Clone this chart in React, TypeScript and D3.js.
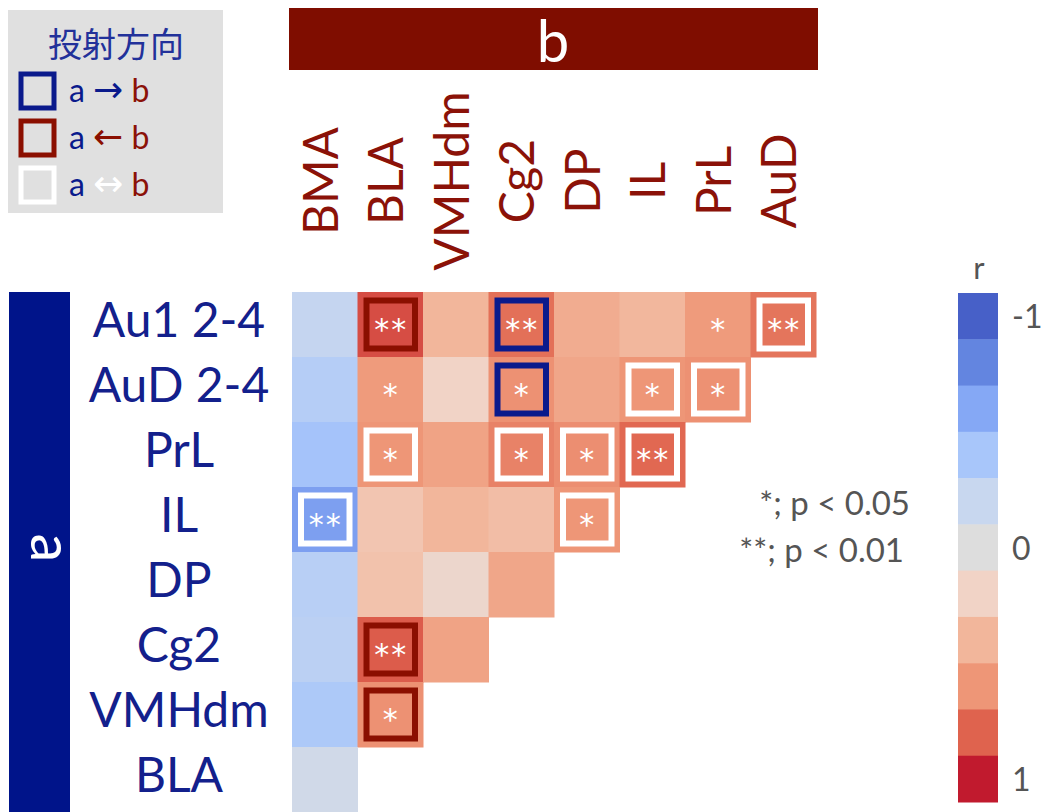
import React from "react";
import * as d3 from "d3";

const rowLabels = ["Au1 2-4", "AuD 2-4", "PrL", "IL", "DP", "Cg2", "VMHdm", "BLA"];
const colLabels = ["BMA", "BLA", "VMHdm", "Cg2", "DP", "IL", "PrL", "AuD"];

// correlation r per row (a), in column order (b); rows get shorter
const rValues = [
  [-0.22, 0.86, 0.4, 0.75, 0.46, 0.39, 0.57, 0.73],
  [-0.32, 0.57, 0.2, 0.62, 0.5, 0.6, 0.62],
  [-0.42, 0.6, 0.52, 0.68, 0.63, 0.78],
  [-0.65, 0.3, 0.4, 0.35, 0.6],
  [-0.3, 0.32, 0.15, 0.5],
  [-0.28, 0.82, 0.52],
  [-0.37, 0.62],
  [-0.12],
];

// 0 = n.s., 1 = p<0.05, 2 = p<0.01
const sigLevels = [
  [0, 2, 0, 2, 0, 0, 1, 2],
  [0, 1, 0, 1, 0, 1, 1],
  [0, 1, 0, 1, 1, 2],
  [2, 0, 0, 0, 1],
  [0, 0, 0, 0],
  [0, 2, 0],
  [0, 1],
  [0],
];

// projection direction: "" none, "out" a->b, "in" a<-b, "bi" a<->b
const directions = [
  ["", "in", "", "out", "", "", "", "bi"],
  ["", "", "", "out", "", "bi", "bi"],
  ["", "bi", "", "bi", "bi", "bi"],
  ["bi", "", "", "", "bi"],
  ["", "", "", ""],
  ["", "in", ""],
  ["", "in"],
  [""],
];

const barTicks = [-1, -0.8, -0.6, -0.4, -0.2, 0, 0.2, 0.4, 0.6, 0.8, 1];
const barColors = [
  "#4760c8", "#6385e0", "#85a8f5", "#a8c6fa", "#c8d7ef", "#dddddd",
  "#f1d3c6", "#f2b69b", "#ee9677", "#df634e", "#c11a2e",
];
const barLabels = [
  { v: -1, t: "-1" },
  { v: 0, t: "0" },
  { v: 1, t: "1" },
];

const legendItems = [
  { dir: "out", arrow: "→" },
  { dir: "in", arrow: "←" },
  { dir: "bi", arrow: "↔" },
];

const NAVY = "#0a1a8c";
const DARKRED = "#8b1208";
const borderColor: Record<string, string> = {
  out: "#0a1a8c",
  in: "#8b0f00",
  bi: "#ffffff",
};

const FONT = "Lato, 'Open Sans', sans-serif";

export default function App() {
  const W = 1048;
  const H = 812;

  const x = d3.scaleBand<string>().domain(colLabels).range([292, 816]);
  const y = d3.scaleBand<string>().domain(rowLabels).range([292, 812]);
  const color = d3
    .scaleLinear<string>()
    .domain(barTicks)
    .range(barColors)
    .interpolate(d3.interpolateRgb)
    .clamp(true);
  const bar = d3
    .scaleBand<number>()
    .domain(barTicks)
    .range([293, 802]);

  const cw = x.bandwidth();
  const ch = y.bandwidth();

  const cells = rValues.flatMap((row, i) =>
    row.map((r, j) => ({
      row: rowLabels[i],
      col: colLabels[j],
      r,
      sig: sigLevels[i][j],
      dir: directions[i][j],
    }))
  );

  return (
    <svg
      width={W}
      height={H}
      style={{ position: "absolute", left: 0, top: 0, background: "#fff" }}
      fontFamily={FONT}
    >
      {/* legend box */}
      <rect x={8} y={10} width={215} height={203} fill="#e0e0e0" />
      <text
        x={116}
        y={57}
        textAnchor="middle"
        fontSize={34}
        fill="#22319a"
        fontFamily="'Noto Sans CJK JP', sans-serif"
      >
        投射方向
      </text>
      {legendItems.map((it, i) => {
        const cy = 91 + i * 47;
        return (
          <g key={it.dir}>
            <rect
              x={21}
              y={cy - 17}
              width={33}
              height={34}
              fill="none"
              stroke={borderColor[it.dir]}
              strokeWidth={5}
            />
            <text x={69} y={cy + 11} fontSize={32}>
              <tspan fill={NAVY}>a </tspan>
              <tspan
                fill={borderColor[it.dir]}
                fontFamily="'DejaVu Sans', sans-serif"
                fontSize={36}
              >
                {it.arrow}
              </tspan>
              <tspan fill={DARKRED}> b</tspan>
            </text>
          </g>
        );
      })}

      {/* top header b */}
      <rect x={289} y={8} width={529} height={62} fill="#7f0d00" />
      <text x={553} y={62} textAnchor="middle" fontSize={58} fill="#fff">
        b
      </text>

      {/* left header a */}
      <rect x={9} y={292} width={61} height={520} fill="#00148a" />
      <text
        transform={`translate(31,548) rotate(90)`}
        textAnchor="middle"
        fontSize={58}
        fill="#fff"
      >
        a
      </text>

      {/* column labels */}
      {colLabels.map((c) => (
        <text
          key={c}
          transform={`translate(${x(c)! + cw / 2 + 13},181) rotate(-90)`}
          textAnchor="middle"
          fontSize={48}
          fill={DARKRED}
        >
          {c}
        </text>
      ))}

      {/* row labels */}
      {rowLabels.map((r) => (
        <text
          key={r}
          x={179}
          y={y(r)! + ch / 2 + 12}
          textAnchor="middle"
          fontSize={48}
          fill="#13208c"
        >
          {r}
        </text>
      ))}

      {/* cells */}
      {cells.map((d) => (
        <rect
          key={`c-${d.row}-${d.col}`}
          x={x(d.col)}
          y={y(d.row)}
          width={cw + 0.5}
          height={ch + 0.5}
          fill={color(d.r)}
        />
      ))}
      {cells
        .filter((d) => d.dir)
        .map((d) => (
          <rect
            key={`b-${d.row}-${d.col}`}
            x={x(d.col)! + 9}
            y={y(d.row)! + 8.5}
            width={cw - 17}
            height={ch - 17}
            fill="none"
            stroke={borderColor[d.dir]}
            strokeWidth={6}
          />
        ))}
      {cells
        .filter((d) => d.sig > 0)
        .map((d) => (
          <text
            key={`s-${d.row}-${d.col}`}
            x={x(d.col)! + cw / 2 + 1}
            y={y(d.row)! + ch / 2 + 15}
            textAnchor="middle"
            fontSize={30}
            letterSpacing={2}
            fontFamily="'DejaVu Sans', sans-serif"
            fill="#fff"
          >
            {"*".repeat(d.sig)}
          </text>
        ))}

      {/* significance note */}
      <text x={910} y={515} textAnchor="end" fontSize={33} fill="#555">
        *; p &lt; 0.05
      </text>
      <text x={904} y={562} textAnchor="end" fontSize={33} fill="#555">
        **; p &lt; 0.01
      </text>

      {/* colour bar */}
      <text x={979} y={279} textAnchor="middle" fontSize={31} fill="#555">
        r
      </text>
      {barTicks.map((v, i) => (
        <rect
          key={`bar-${v}`}
          x={958}
          y={bar(v)}
          width={40}
          height={bar.bandwidth() + 0.5}
          fill={barColors[i]}
        />
      ))}
      {barLabels.map((b) => (
        <text
          key={b.t}
          x={1012}
          y={bar(b.v)! + bar.bandwidth() / 2 + 12}
          fontSize={32}
          fill="#555"
        >
          {b.t}
        </text>
      ))}
    </svg>
  );
}
